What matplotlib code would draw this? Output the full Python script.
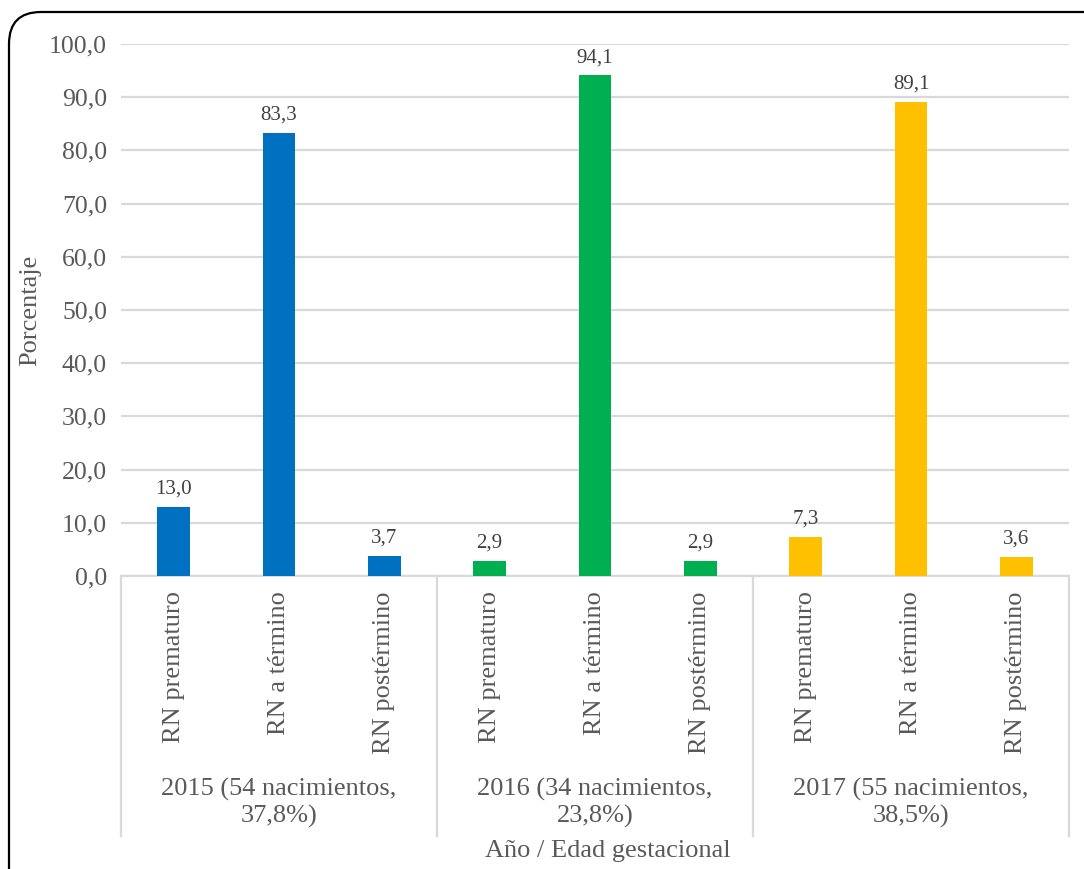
import matplotlib
matplotlib.use('Agg')
import matplotlib.pyplot as plt
import matplotlib.patches as mpatches
from matplotlib.transforms import IdentityTransform

# Datos: porcentaje de recién nacidos por edad gestacional y año
categorias = ['RN prematuro', 'RN a término', 'RN postérmino']
grupos = ['2015 (54 nacimientos,\n37,8%)',
          '2016 (34 nacimientos,\n23,8%)',
          '2017 (55 nacimientos,\n38,5%)']
valores_2015 = [13.0, 83.3, 3.7]
valores_2016 = [2.9, 94.1, 2.9]
valores_2017 = [7.3, 89.1, 3.6]
colores = ['#0070C0', '#00B050', '#FFC000']

FUENTE = 'Liberation Serif'
GRIS = '#595959'
GRID = '#D9D9D9'

plt.rcParams['font.family'] = FUENTE

W, H = 1084, 869
fig = plt.figure(figsize=(W / 100, H / 100), dpi=100)
ax = fig.add_axes([121 / W, 1 - 576 / H, (1069 - 121) / W, (576 - 44) / H])

series = [valores_2015, valores_2016, valores_2017]
pos = 0
xticks, xlabels = [], []
for g, (vals, col) in enumerate(zip(series, colores)):
    for cat, v in zip(categorias, vals):
        x = pos + 0.5
        ax.bar(x, v, width=0.31, color=col, zorder=3)
        ax.annotate(f'{v:.1f}'.replace('.', ','), (x, v), xytext=(0, 6),
                    textcoords='offset points', ha='center', va='bottom',
                    fontsize=15, color='#404040')
        xticks.append(x)
        xlabels.append(cat)
        pos += 1

ax.set_xlim(0, pos)
ax.set_ylim(0, 100)
ax.set_yticks(range(0, 101, 10))
ax.set_yticklabels([f'{t:.1f}'.replace('.', ',') for t in range(0, 101, 10)],
                   fontsize=18.5, color=GRIS)
ax.set_xticks(xticks)
ax.set_xticklabels(xlabels, rotation=90, fontsize=19, color=GRIS)
ax.tick_params(axis='both', length=0)
ax.tick_params(axis='x', pad=11)
ax.tick_params(axis='y', pad=10)
ax.grid(axis='y', color=GRID, linewidth=1.6, zorder=0)
for s in ['top', 'right', 'left']:
    ax.spines[s].set_visible(False)
ax.spines['bottom'].set_color(GRID)
ax.spines['bottom'].set_linewidth(1.6)

# separadores de grupo y etiquetas de año
tr = ax.get_xaxis_transform()
fondo = -(836 - 576) / (576 - 44)
for k in range(len(grupos) + 1):
    ax.plot([k * 3, k * 3], [0, fondo], transform=tr, color=GRID,
            linewidth=1.6, clip_on=False)
for k, g in enumerate(grupos):
    ax.text(k * 3 + 1.5, -(778 - 576) / (576 - 44), g, transform=tr,
            ha='center', va='top', fontsize=19, color=GRIS, linespacing=1.2)

fig.text(608 / W, 1 - 851 / H, 'Año / Edad gestacional', ha='center',
         va='center', fontsize=19, color=GRIS)
fig.text(30 / W, 1 - 310 / H, 'Porcentaje', ha='center', va='center',
         rotation=90, fontsize=19, color=GRIS)

# marco redondeado del gráfico
marco = mpatches.FancyBboxPatch((9, -100), 1300, H - 12 + 100,
                                boxstyle='round,pad=0,rounding_size=32',
                                transform=IdentityTransform(), fill=False,
                                edgecolor='black', linewidth=1.6)
fig.patches.append(marco)

fig.savefig('out.png', dpi=100)
